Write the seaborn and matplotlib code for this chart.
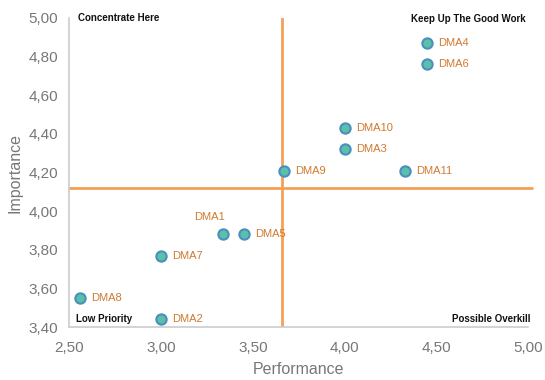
import numpy as np
import pandas as pd
import seaborn as sns
import matplotlib.pyplot as plt
import matplotlib.ticker as ticker

# Data
names = ['DMA1', 'DMA2', 'DMA3', 'DMA4', 'DMA5', 'DMA6',
         'DMA7', 'DMA8', 'DMA9', 'DMA10', 'DMA11']
performance = [3.34, 3.00, 4.00, 4.45, 3.45, 4.45, 3.00, 2.56, 3.67, 4.00, 4.33]
importance = [3.88, 3.44, 4.32, 4.87, 3.88, 4.76, 3.77, 3.55, 4.21, 4.43, 4.21]
perf_cut = 3.66
imp_cut = 4.12
x_ticks = [2.5, 3.0, 3.5, 4.0, 4.5, 5.0]
y_ticks = [3.4, 3.6, 3.8, 4.0, 4.2, 4.4, 4.6, 4.8, 5.0]

df = pd.DataFrame({'name': names, 'Performance': performance, 'Importance': importance})

sns.set_style('white')
plt.rcParams['font.family'] = ['Liberation Sans', 'DejaVu Sans']

fig = plt.figure(figsize=(5.45, 3.8), dpi=100)
ax = fig.add_axes([0.127, 0.139, 0.842, 0.814])

ax.axvline(perf_cut, color='#f5a057', lw=2, zorder=1)
ax.axhline(imp_cut, xmax=1.008, color='#f5a057', lw=2, zorder=1, clip_on=False)

sns.scatterplot(data=df, x='Performance', y='Importance', ax=ax, s=55,
                color='#5cbfa8', edgecolor='#4a8fc0', linewidth=1.5, zorder=3)

label_color = '#d07a30'
for _, r in df.iterrows():
    if r['name'] == 'DMA1':
        ax.annotate(r['name'], (r['Performance'], r['Importance']), xytext=(-10, 9),
                    textcoords='offset points', ha='center', va='bottom',
                    fontsize=8, color=label_color)
    else:
        ax.annotate(r['name'], (r['Performance'], r['Importance']), xytext=(8, 0),
                    textcoords='offset points', ha='left', va='center',
                    fontsize=8, color=label_color)

ax.set_xlim(2.5, 5.0)
ax.set_ylim(3.4, 5.0)
ax.set_xticks(x_ticks)
ax.set_yticks(y_ticks)
fmt = ticker.FuncFormatter(lambda v, p: f'{v:.2f}'.replace('.', ','))
ax.xaxis.set_major_formatter(fmt)
ax.yaxis.set_major_formatter(fmt)
ax.tick_params(colors='#777777', labelsize=11, length=0)
ax.tick_params(axis='x', pad=10)
ax.tick_params(axis='y', pad=8)

ax.set_xlabel('Performance', fontsize=11.5, color='#777777', labelpad=5)
ax.set_ylabel('Importance', fontsize=11.5, color='#777777', labelpad=4)

for s in ['top', 'right']:
    ax.spines[s].set_visible(False)
for s in ['left', 'bottom']:
    ax.spines[s].set_color('#cccccc')
    ax.spines[s].set_linewidth(1.2)

ax.text(0.02, 1.0, 'Concentrate Here', transform=ax.transAxes, fontsize=7,
        fontweight='bold', ha='left', va='center', color='#111111')
ax.text(0.995, 0.995, 'Keep Up The Good Work', transform=ax.transAxes, fontsize=7,
        fontweight='bold', ha='right', va='center', color='#111111')
ax.text(0.015, 0.025, 'Low Priority', transform=ax.transAxes, fontsize=7,
        fontweight='bold', ha='left', va='center', color='#111111')
ax.text(1.005, 0.025, 'Possible Overkill', transform=ax.transAxes, fontsize=7,
        fontweight='bold', ha='right', va='center', color='#111111')

fig.savefig('out.png', dpi=100)
